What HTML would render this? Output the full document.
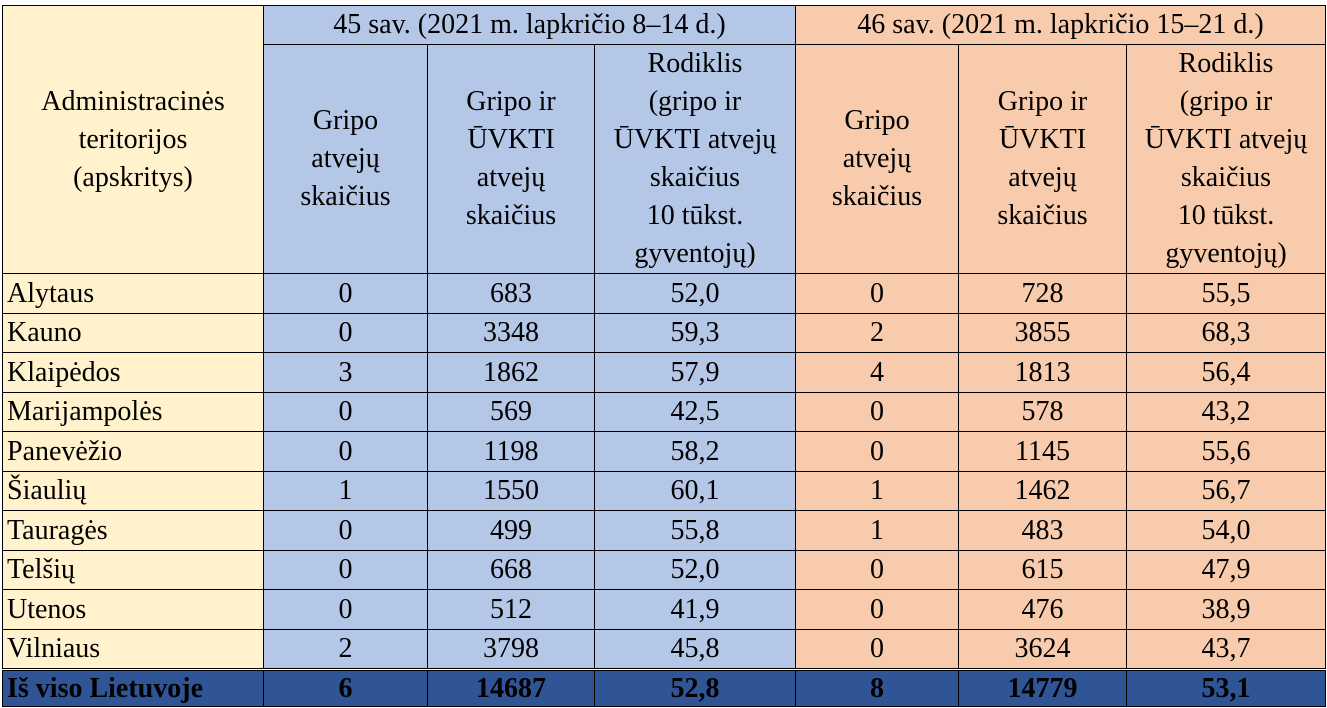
<!DOCTYPE html>
<html><head><meta charset="utf-8"><style>
body{margin:0;width:1327px;height:708px;background:#fff;overflow:hidden;position:relative;font-family:"Liberation Serif","Times New Roman","DejaVu Serif",serif;color:#000}
.c{position:absolute;box-sizing:border-box;border:1px solid #000;display:flex;align-items:center;justify-content:center;text-align:center;font-family:"Liberation Serif","Times New Roman","DejaVu Serif",serif;font-size:28px;line-height:38px;white-space:nowrap}
.l{justify-content:flex-start;padding-left:4px}
.tot{background:#2F5597;font-weight:bold}
</style></head><body>
<div id="root"></div>
<script>
const xs=[2,263,427,594,795,958,1126,1325];
const regions=["Alytaus","Kauno","Klaipėdos","Marijampolės","Panevėžio","Šiaulių","Tauragės","Telšių","Utenos","Vilniaus"];
const flu45=["0","0","3","0","0","1","0","0","0","2"];
const ili45=["683","3348","1862","569","1198","1550","499","668","512","3798"];
const rate45=["52,0","59,3","57,9","42,5","58,2","60,1","55,8","52,0","41,9","45,8"];
const flu46=["0","2","4","0","0","1","1","0","0","0"];
const ili46=["728","3855","1813","578","1145","1462","483","615","476","3624"];
const rate46=["55,5","68,3","56,4","43,2","55,6","56,7","54,0","47,9","38,9","43,7"];
const totals=["Iš viso Lietuvoje","6","14687","52,8","8","14779","53,1"];
const colBg=["#FFF2CC","#B4C7E7","#B4C7E7","#B4C7E7","#F8CBAD","#F8CBAD","#F8CBAD"];
const root=document.getElementById('root');
function cell(x1,x2,y1,y2,html,bg,name,cls){
  const d=document.createElement('div');
  d.className='c'+(cls?' '+cls:'');
  d.style.left=x1+'px';d.style.top=y1+'px';d.style.width=(x2-x1+1)+'px';d.style.height=(y2-y1+1)+'px';
  if(bg)d.style.background=bg;
  d.innerHTML=html;
  
  
  root.appendChild(d);
}
cell(xs[0],xs[1],5,273,"Administracinės<br>teritorijos<br>(apskritys)",colBg[0],'region-header');
cell(xs[1],xs[4],5,44,"45 sav. (2021 m. lapkričio 8–14 d.)",colBg[1],'week-45-header');
cell(xs[4],xs[7],5,44,"46 sav. (2021 m. lapkričio 15–21 d.)",colBg[4],'week-46-header');
const sub=["Gripo<br>atvejų<br>skaičius","Gripo ir<br>ŪVKTI<br>atvejų<br>skaičius","Rodiklis<br>(gripo ir<br>ŪVKTI atvejų<br>skaičius<br>10 tūkst.<br>gyventojų)"];
for(let i=0;i<6;i++){cell(xs[i+1],xs[i+2],44,273,sub[i%3],colBg[i+1],'subheader-'+(i+1));}
const cols=[regions,flu45,ili45,rate45,flu46,ili46,rate46];
const rowH=39.5;
for(let r=0;r<regions.length;r++){
  const y1=Math.round(273+r*rowH),y2=Math.round(273+(r+1)*rowH);
  for(let c=0;c<7;c++){
    cell(xs[c],xs[c+1],y1,y2,cols[c][r],colBg[c],'cell-'+regions[r].toLowerCase()+'-'+c,c==0?'l':'');
  }
}
const ty=Math.round(273+regions.length*rowH)+2;
for(let c=0;c<7;c++){cell(xs[c],xs[c+1],ty,706,totals[c],null,'total-cell-'+c,'tot'+(c==0?' l':''));}
</script>
</body></html>
